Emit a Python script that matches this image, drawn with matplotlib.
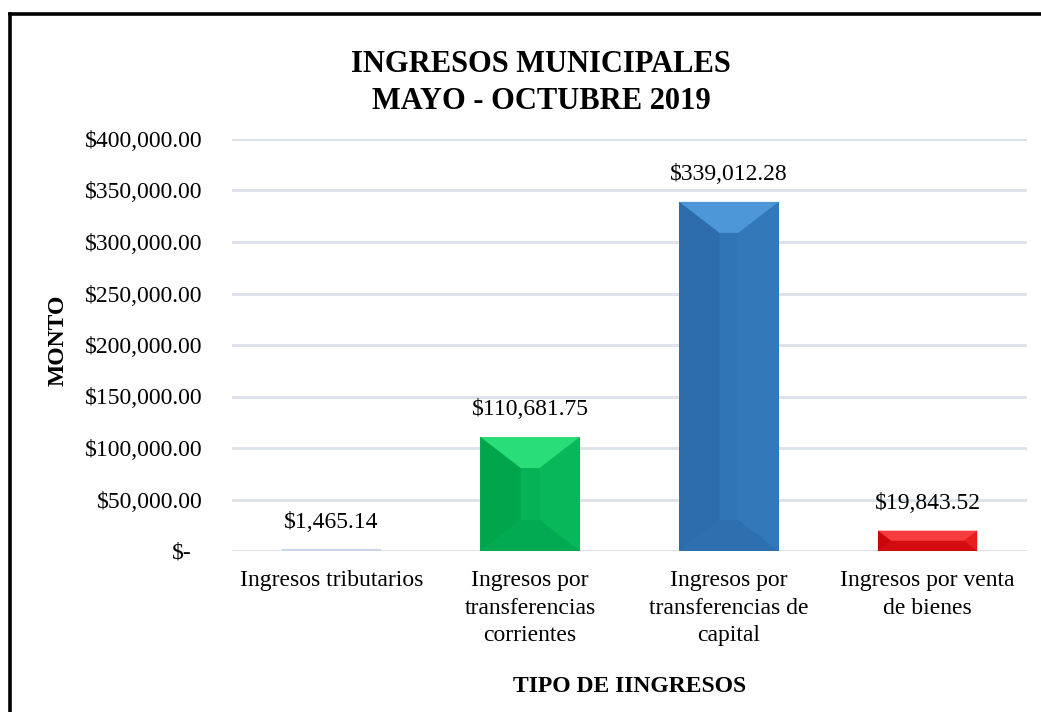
import matplotlib
matplotlib.use("Agg")
import matplotlib.pyplot as plt
from matplotlib.patches import Polygon
from matplotlib.lines import Line2D
from matplotlib.transforms import ScaledTranslation
from matplotlib.ticker import FuncFormatter, MultipleLocator

categories = ["Ingresos tributarios", "Ingresos por\ntransferencias\ncorrientes",
              "Ingresos por\ntransferencias de\ncapital", "Ingresos por venta\nde bienes"]
values = [1465.14, 110681.75, 339012.28, 19843.52]
value_labels = ["$1,465.14", "$110,681.75", "$339,012.28", "$19,843.52"]
title_lines = ["INGRESOS MUNICIPALES", "MAYO - OCTUBRE 2019"]
y_label = "MONTO"
x_label = "TIPO DE IINGRESOS"

# face colours: base, top, left, right, bottom
palettes = [
    ("#c8d6e8", "#dbe6f2", "#bccbe0", "#cfdcec", "#bfcde2"),
    ("#05b255", "#33e882", "#00a34a", "#08b95a", "#02aa50"),
    ("#3075b6", "#55a0e2", "#2b6aa9", "#3479ba", "#2d6eae"),
    ("#e2101a", "#fb4646", "#c60408", "#e8201f", "#d20a10"),
]

plt.rcParams['font.family'] = ['Liberation Serif', 'DejaVu Serif']

W, H = 1041, 712
fig = plt.figure(figsize=(W / 100, H / 100), dpi=100)
ax = fig.add_axes([232 / W, (H - 551) / H, (1027 - 232) / W, (551 - 139) / H])

x = list(range(len(categories)))
bars = ax.bar(x, values, width=0.5, color=[p[0] for p in palettes], zorder=3, linewidth=0)
ax.set_xlim(-0.5, len(categories) - 0.5)
ax.set_ylim(0, 400000)
ax.yaxis.set_major_locator(MultipleLocator(50000))


def fmt(v, pos):
    if abs(v) < 1e-9:
        return "$-"
    return "${:,.2f}".format(v)


ax.yaxis.set_major_formatter(FuncFormatter(fmt))
ax.grid(axis='y', color='#dde1e8', linewidth=2.0, zorder=0)
for s in ax.spines.values():
    s.set_visible(False)
ax.tick_params(axis='y', length=0, pad=21, labelsize=17)
ax.tick_params(axis='x', length=0, pad=14, labelsize=17)
ax.set_xticks(x)
ax.set_xticklabels(categories, linespacing=1.38, va='top')

fig.canvas.draw()
for lab in ax.get_yticklabels():
    if lab.get_text() == "$-":
        lab.set_transform(lab.get_transform() + ScaledTranslation(-11 / 100, 0, fig.dpi_scale_trans))

# bevel faces
tr = ax.transData
inv = tr.inverted()
for bar, pal in zip(bars, palettes):
    x0, y0 = bar.get_x(), bar.get_y()
    x1, y1 = x0 + bar.get_width(), y0 + bar.get_height()
    (px0, py0), (px1, py1) = tr.transform([(x0, y0), (x1, y1)])
    hpx = py1 - py0
    wpx = px1 - px0
    dv = min(31.0, hpx / 2.0)
    dh = min(1.3 * dv, wpx / 2.0 - 8)
    if hpx < 4:
        continue
    pts = {
        'top': [(px0, py1), (px1, py1), (px1 - dh, py1 - dv), (px0 + dh, py1 - dv)],
        'bottom': [(px0, py0), (px1, py0), (px1 - dh, py0 + dv), (px0 + dh, py0 + dv)],
        'left': [(px0, py0), (px0, py1), (px0 + dh, py1 - dv), (px0 + dh, py0 + dv)],
        'right': [(px1, py0), (px1, py1), (px1 - dh, py1 - dv), (px1 - dh, py0 + dv)],
    }
    cols = {'top': pal[1], 'left': pal[2], 'right': pal[3], 'bottom': pal[4]}
    for k in ['left', 'right', 'bottom', 'top']:
        poly = Polygon(inv.transform(pts[k]), closed=True, facecolor=cols[k],
                       edgecolor='none', zorder=4, alpha=0.8)
        ax.add_patch(poly)

for xi, v, lab in zip(x, values, value_labels):
    ax.annotate(lab, (xi, v), xytext=(0, 27), textcoords='offset pixels',
                ha='center', va='center', fontsize=17, zorder=5)

fig.text(541 / W, 1 - 83 / H, "\n".join(title_lines), ha='center', va='center',
         fontsize=22, fontweight='bold', linespacing=1.4)
fig.text(58 / W, 1 - 340 / H, y_label, rotation=90, ha='center', va='center',
         fontsize=17, fontweight='bold')
fig.text(630 / W, 1 - 686 / H, x_label, ha='center', va='center',
         fontsize=17, fontweight='bold')

# chart border (top and left visible)
fig.add_artist(Line2D([9.5 / W, 9.5 / W], [0, 1 - 13.5 / H], color='black', linewidth=2.6,
                      transform=fig.transFigure, solid_capstyle='projecting'))
fig.add_artist(Line2D([9.5 / W, 1.0], [1 - 13.5 / H, 1 - 13.5 / H], color='black', linewidth=2.6,
                      transform=fig.transFigure, solid_capstyle='projecting'))

fig.savefig("out.png", dpi=100, facecolor='white')
